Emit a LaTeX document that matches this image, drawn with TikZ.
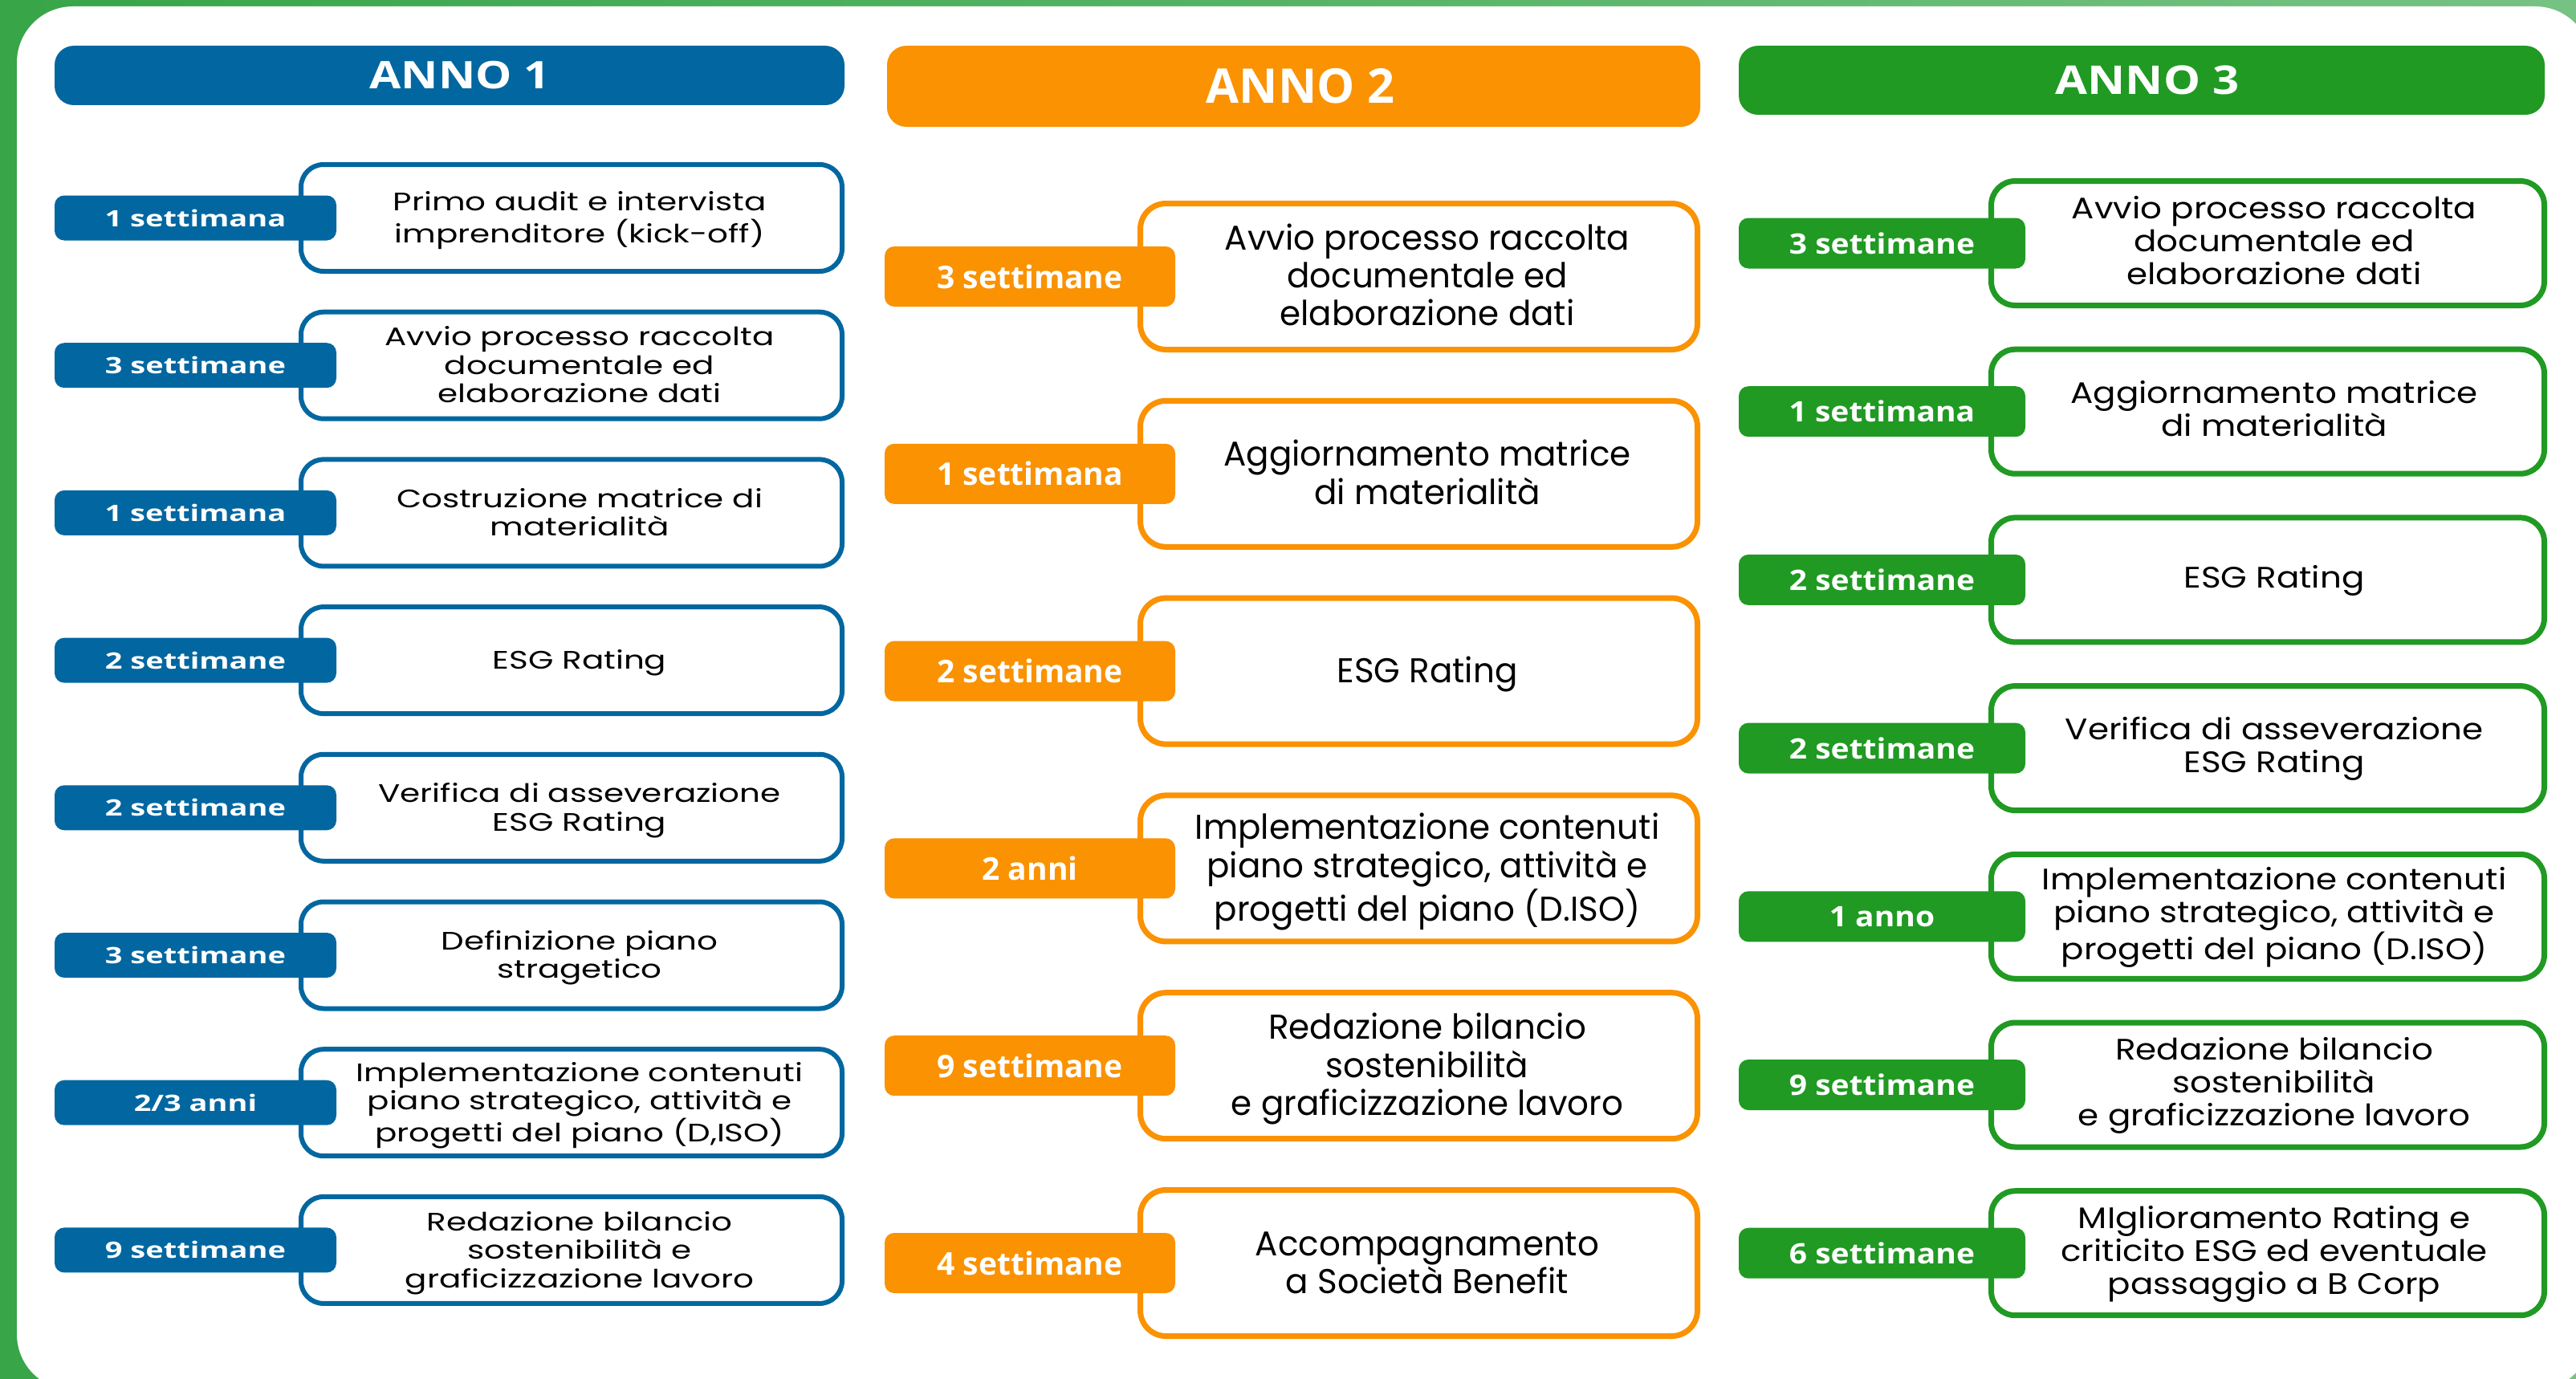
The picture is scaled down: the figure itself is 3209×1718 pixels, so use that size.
\documentclass[tikz,border=0pt]{standalone}
\usepackage{fontspec}
\usepackage{graphicx}
\setmainfont{Poppins}
\newfontfamily\tagfont{Open Sans}
\definecolor{cblue}{RGB}{2,103,160}
\definecolor{corange}{RGB}{250,146,2}
\definecolor{cgreen}{RGB}{32,154,35}
\definecolor{frameL}{RGB}{55,165,72}
\definecolor{frameR}{RGB}{118,194,132}
\newcommand{\sq}[4]{\scalebox{1}[#1]{\fontsize{#2}{#3}\selectfont\begin{tabular}{@{}c@{}}#4\end{tabular}}}
\newcommand{\oneline}[3]{\scalebox{1}[#1]{\fontsize{#2}{#2}\selectfont #3}}
% column 1
\newcommand{\rowA}[4]{%
  \node[boxA] (#1) at (712,#2) {};
  \node[tagA] (#1t) at (243.5,#2) {\oneline{0.74}{38}{#3}};
  \node[txt] (#1x) at (722,#2+4) {\sq{0.78}{40.4}{45.5}{#4}};}
% column 2
\newcommand{\rowB}[4]{%
  \node[boxB] (#1) at (1767.5,#2) {};
  \node[tagB] (#1t) at (1283,#2) {\oneline{1}{39}{#3}};
  \node[txt] (#1x) at (1778,#2+5) {\sq{1.02}{42}{46}{#4}};}
% column 3
\newcommand{\rowC}[4]{%
  \node[boxC] (#1) at (2825,#2) {};
  \node[tagC] (#1t) at (2344.5,#2) {\oneline{0.9}{39}{#3}};
  \node[txt] (#1x) at (2833,#2+2) {\sq{0.88}{42}{46.5}{#4}};}
\begin{document}
\begin{tikzpicture}[x=1pt,y=-1pt,
  boxbase/.style={rectangle, fill=white, inner sep=0pt},
  boxA/.style={boxbase, draw=cblue, line width=6pt, rounded corners=28pt, minimum width=674pt, minimum height=133pt},
  boxB/.style={boxbase, draw=corange, line width=7pt, rounded corners=32pt, minimum width=694pt, minimum height=182pt},
  boxC/.style={boxbase, draw=cgreen, line width=7pt, rounded corners=30pt, minimum width=689pt, minimum height=155pt},
  tagbase/.style={rectangle, rounded corners=12pt, inner sep=0pt, text=white, font=\tagfont\bfseries},
  tagA/.style={tagbase, fill=cblue, minimum width=351pt, minimum height=56pt},
  tagB/.style={tagbase, fill=corange, minimum width=362pt, minimum height=75pt},
  tagC/.style={tagbase, fill=cgreen, minimum width=357pt, minimum height=63pt},
  head/.style={rectangle, rounded corners=24pt, inner sep=0pt, text=white, font=\tagfont\bfseries},
  txt/.style={inner sep=0pt, text=black}]
\useasboundingbox (0,0) rectangle (3209,1718);
\shade[left color=frameL, right color=frameR] (0,0) rectangle (3209,1718);
\fill[white, rounded corners=70pt] (21,8) rectangle (3228,1732);
% headers
\node[head, fill=cblue, minimum width=984pt, minimum height=74pt] (h1) at (560,94) {};
\node[head, fill=corange, minimum width=1013pt, minimum height=101pt] (h2) at (1611.5,107.5) {};
\node[head, fill=cgreen, minimum width=1004pt, minimum height=86pt] (h3) at (2668,100) {};
\node[head] (h1x) at (573,94) {\oneline{0.83}{57}{ANNO 1}};
\node[head] (h2x) at (1620,107.5) {\oneline{1}{59.5}{ANNO 2}};
\node[head] (h3x) at (2675,100) {\oneline{0.85}{58}{ANNO 3}};
% column 1
\rowA{a1}{271.5}{1 settimana}{Primo audit e intervista\\imprenditore (kick-off)}
\rowA{a2}{455.2}{3 settimane}{Avvio processo raccolta\\documentale ed\\elaborazione dati}
\rowA{a3}{638.9}{1 settimana}{Costruzione matrice di\\materialità}
\rowA{a4}{822.6}{2 settimane}{ESG Rating}
\rowA{a5}{1006.3}{2 settimane}{Verifica di asseverazione\\ESG Rating}
\rowA{a6}{1190.0}{3 settimane}{Definizione piano\\stragetico}
\rowA{a7}{1373.7}{2/3 anni}{Implementazione contenuti\\piano strategico, attività e\\progetti del piano (D,ISO)}
\rowA{a8}{1557.4}{9 settimane}{Redazione bilancio\\sostenibilità e\\graficizzazione lavoro}
% column 2
\rowB{b1}{344.5}{3 settimane}{Avvio processo raccolta\\documentale ed\\elaborazione dati}
\rowB{b2}{590.3}{1 settimana}{Aggiornamento matrice\\di materialità}
\rowB{b3}{836.1}{2 settimane}{ESG Rating}
\rowB{b4}{1081.9}{2 anni}{Implementazione contenuti\\piano strategico, attività e\\progetti del piano (D.ISO)}
\rowB{b5}{1327.7}{9 settimane}{Redazione bilancio\\sostenibilità\\e graficizzazione lavoro}
\rowB{b6}{1573.5}{4 settimane}{Accompagnamento\\a Società Benefit}
% column 3
\rowC{c1}{303}{3 settimane}{Avvio processo raccolta\\documentale ed\\elaborazione dati}
\rowC{c2}{512.7}{1 settimana}{Aggiornamento matrice\\di materialità}
\rowC{c3}{722.4}{2 settimane}{ESG Rating}
\rowC{c4}{932.1}{2 settimane}{Verifica di asseverazione\\ESG Rating}
\rowC{c5}{1141.8}{1 anno}{Implementazione contenuti\\piano strategico, attività e\\progetti del piano (D.ISO)}
\rowC{c6}{1351.5}{9 settimane}{Redazione bilancio\\sostenibilità\\e graficizzazione lavoro}
\rowC{c7}{1561.2}{6 settimane}{MIglioramento Rating e\\criticito ESG ed eventuale\\passaggio a B Corp}
\end{tikzpicture}
\end{document}
